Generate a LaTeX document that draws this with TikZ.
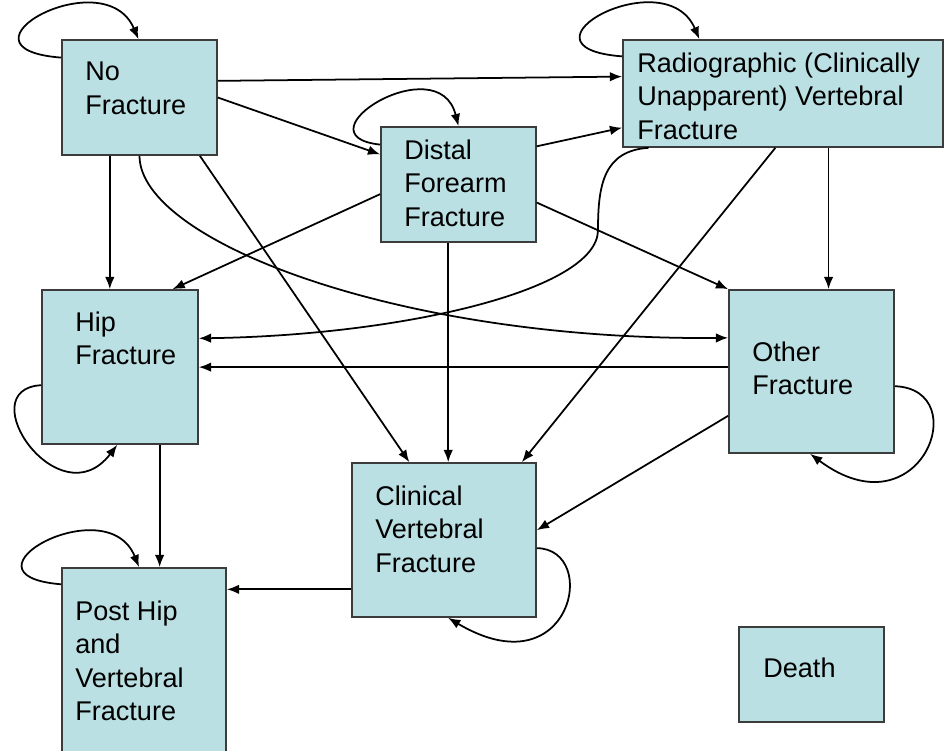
\documentclass[tikz,border=0pt]{standalone}
\usepackage{fontspec}
\setmainfont{Liberation Sans}
\usepackage{xcolor}
\usetikzlibrary{fit,arrows.meta}
\definecolor{boxfill}{HTML}{BBE0E3}
\definecolor{boxline}{HTML}{3C3C3C}

\begin{document}
\begin{tikzpicture}[x=0.02cm, y=-0.02cm,
  state/.style={draw=boxline, line width=0.9pt, fill=boxfill, inner sep=0pt, fit={#1}},
  lbl/.style={anchor=north west, inner sep=0pt, align=left, font=\fontsize{15.4}{18.8}\selectfont},
  arr/.style={-{Latex[length=7pt,width=5.4pt]}, line width=1pt}]
\useasboundingbox (0,0) rectangle (944,751);
\clip (0,0) rectangle (944,751);

\node[state={(62,40) (217,155)}] (nofx) {};
\node[state={(381,127) (536,242)}] (dist) {};
\node[state={(623,40) (943,147)}] (radio) {};
\node[state={(42,290) (198,444)}] (hip) {};
\node[state={(729,290) (894,453)}] (other) {};
\node[state={(352,463) (536,617)}] (clin) {};
\node[state={(62,568) (226,755)}] (post) {};
\node[state={(739,627) (884,722)}] (death) {};

\node[lbl] (nofx-t) at (85,62) {No\\Fracture};
\node[lbl] (dist-t) at (404,140) {Distal\\Forearm\\Fracture};
\node[lbl] (radio-t) at (637,53) {Radiographic (Clinically\\Unapparent) Vertebral\\Fracture};
\node[lbl] (hip-t) at (75,312) {Hip\\Fracture};
\node[lbl] (other-t) at (752,342) {Other\\Fracture};
\node[lbl] (clin-t) at (375,486) {Clinical\\Vertebral\\Fracture};
\node[lbl] (post-t) at (75,601) {Post Hip\\and\\Vertebral\\Fracture};
\node[lbl] (death-t) at (763,658) {Death};

% staying in the same state
\draw[arr] (nofx.153.6) .. controls +(-118,-9) and +(-34,-80) .. (nofx.91.5);
\draw[arr] (dist.153) .. controls +(-85,-9) and +(-20,-80) .. (dist.90);
\draw[arr] (radio.167.8) .. controls +(-118,-9) and +(-34,-80) .. (radio.147.5);
\draw[arr] (hip.193.7) .. controls +(-72,4) and +(-58,76) .. (hip.268.5);
\draw[arr] (other.-10.6) .. controls +(81,3) and +(110,82) .. (other.-91);
\draw[arr] (clin.-5.6) .. controls +(64,1) and +(123,73) .. (clin.-87.8);
\draw[arr] (post.137.7) .. controls +(-112,-9) and +(-32,-80) .. (post.93.7);

% transitions
\draw[arr] (nofx.12) -- (radio.174.8);
\draw[arr] (nofx.east) -- (dist.159.2);
\draw[arr] (nofx.-117.2) -- (nofx.-117.2 |- hip.north);
\draw[arr] (nofx.south) .. controls +(0,85) and +(-329,3) .. (other.158.5);
\draw[arr] (nofx.-44.5) -- (clin.114.4);
\draw[arr] (dist.26.4) -- (radio.-168.2);
\draw[arr] (dist.-173.7) -- (hip.56.5);
\draw[arr] (dist.-100.3) -- (dist.-100.3 |- clin.north);
\draw[arr] (dist.-13.4) -- (other.north west);
\coordinate (kink) at (598,230);
\draw[arr] (radio.-158.1) .. controls +(-45,3) and +(0,-45) .. (kink)
  .. controls +(0,60) and +(203,-3) .. (hip.20.4);
\draw[arr] (radio.-50.6) -- (radio.-50.6 |- other.north);
\draw[arr] (radio.-98.5) -- (clin.45.8);
\draw[arr] (other.177) -- (other.177 -| hip.east);
\draw[arr] (other.-152.2) -- (clin.6.8);
\draw[arr] (clin.-152.4) -- (clin.-152.4 -| post.east);
\draw[arr] (hip.-63.7) -- (hip.-63.7 |- post.north);
\end{tikzpicture}
\end{document}
